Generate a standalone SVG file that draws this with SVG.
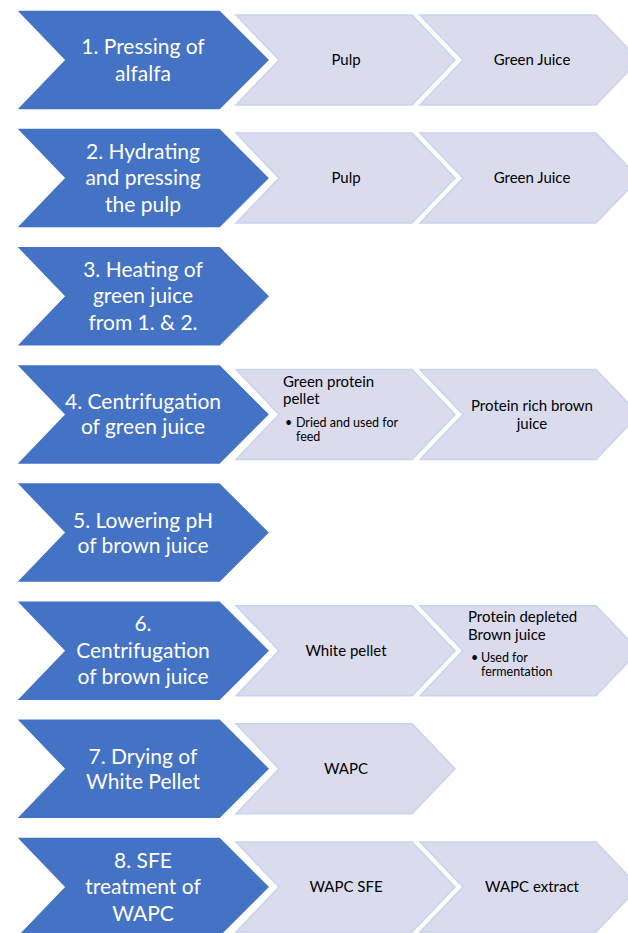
<svg xmlns="http://www.w3.org/2000/svg" xmlns:xlink="http://www.w3.org/1999/xlink" width="628" height="933" viewBox="0 0 628 933">
<style>
.b{fill:#4472C4;stroke:#ffffff;stroke-width:1.5}
.l{fill:#DADCEE;stroke:#C8D3EC;stroke-width:1.5}
.bt{font-family:Lato,"Open Sans",sans-serif;font-size:21px;fill:#ffffff;text-anchor:middle}
.lt{font-family:Lato,"Open Sans",sans-serif;font-size:15px;fill:#000000;text-anchor:middle}
.ls{font-family:Lato,"Open Sans",sans-serif;font-size:15px;fill:#000000}
.sm{font-family:Lato,"Open Sans",sans-serif;font-size:12.5px;fill:#000000}
</style>
<defs>
<path id="blue" d="M16,-50 H220 L270,0 L220,50 H16 L64,0 Z"/>
<path id="light1" d="M236,-45 H412 L455,0 L412,45 H236 L279,0 Z"/>
<path id="light2" d="M420,-45 H596 L639,0 L596,45 H420 L463,0 Z"/>
</defs>
<rect width="628" height="933" fill="#ffffff"/>
<g id="connectors"></g>

<g id="row1" transform="translate(0,60)">
<g id="step1"><use xlink:href="#blue" class="b"/><text class="bt" x="143" y="-6">1. Pressing of</text><text class="bt" x="143" y="20.5">alfalfa</text></g>
<g id="pulp1"><use xlink:href="#light1" class="l"/><text class="lt" x="346" y="5">Pulp</text></g>
<g id="juice1"><use xlink:href="#light2" class="l"/><text class="lt" x="532" y="5">Green Juice</text></g>
</g>

<g id="row2" transform="translate(0,178.1)">
<g id="step2"><use xlink:href="#blue" class="b"/><text class="bt" x="143" y="-19.5">2. Hydrating</text><text class="bt" x="143" y="7">and pressing</text><text class="bt" x="143" y="33.5">the pulp</text></g>
<g id="pulp2"><use xlink:href="#light1" class="l"/><text class="lt" x="346" y="5">Pulp</text></g>
<g id="juice2"><use xlink:href="#light2" class="l"/><text class="lt" x="532" y="5">Green Juice</text></g>
</g>

<g id="row3" transform="translate(0,296.3)">
<g id="step3"><use xlink:href="#blue" class="b"/><text class="bt" x="143" y="-19.5">3. Heating of</text><text class="bt" x="143" y="7">green juice</text><text class="bt" x="143" y="33.5">from 1. &amp; 2.</text></g>
</g>

<g id="row4" transform="translate(0,414.4)">
<g id="step4"><use xlink:href="#blue" class="b"/><text class="bt" x="143" y="-5">4. Centrifugation</text><text class="bt" x="143" y="20">of green juice</text></g>
<g id="greenpellet"><use xlink:href="#light1" class="l"/>
<text class="ls" x="283" y="-27.5">Green protein</text><text class="ls" x="283" y="-10.5">pellet</text>
<text class="sm" x="285" y="12.5">•</text><text class="sm" x="296" y="12.5">Dried and used for</text><text class="sm" x="296" y="26.5">feed</text></g>
<g id="brownjuice"><use xlink:href="#light2" class="l"/><text class="lt" x="532" y="-3.5">Protein rich brown</text><text class="lt" x="532" y="14.5">juice</text></g>
</g>

<g id="row5" transform="translate(0,532.6)">
<g id="step5"><use xlink:href="#blue" class="b"/><text class="bt" x="143" y="-5">5. Lowering pH</text><text class="bt" x="143" y="20">of brown juice</text></g>
</g>

<g id="row6" transform="translate(0,650.7)">
<g id="step6"><use xlink:href="#blue" class="b"/><text class="bt" x="143" y="-19.5">6.</text><text class="bt" x="143" y="7">Centrifugation</text><text class="bt" x="143" y="33.5">of brown juice</text></g>
<g id="whitepellet"><use xlink:href="#light1" class="l"/><text class="lt" x="346" y="5">White pellet</text></g>
<g id="depleted"><use xlink:href="#light2" class="l"/>
<text class="ls" x="468" y="-28.5">Protein depleted</text><text class="ls" x="468" y="-10.5">Brown juice</text>
<text class="sm" x="471" y="11.5">•</text><text class="sm" x="481" y="11.5">Used for</text><text class="sm" x="481" y="25.5">fermentation</text></g>
</g>

<g id="row7" transform="translate(0,768.8)">
<g id="step7"><use xlink:href="#blue" class="b"/><text class="bt" x="143" y="-5">7. Drying of</text><text class="bt" x="143" y="20">White Pellet</text></g>
<g id="wapc"><use xlink:href="#light1" class="l"/><text class="lt" x="346" y="5">WAPC</text></g>
</g>

<g id="row8" transform="translate(0,887)">
<g id="step8"><use xlink:href="#blue" class="b"/><text class="bt" x="143" y="-19.5">8. SFE</text><text class="bt" x="143" y="7">treatment of</text><text class="bt" x="143" y="33.5">WAPC</text></g>
<g id="wapcsfe"><use xlink:href="#light1" class="l"/><text class="lt" x="346" y="5">WAPC SFE</text></g>
<g id="wapcextract"><use xlink:href="#light2" class="l"/><text class="lt" x="532" y="5">WAPC extract</text></g>
</g>
</svg>
